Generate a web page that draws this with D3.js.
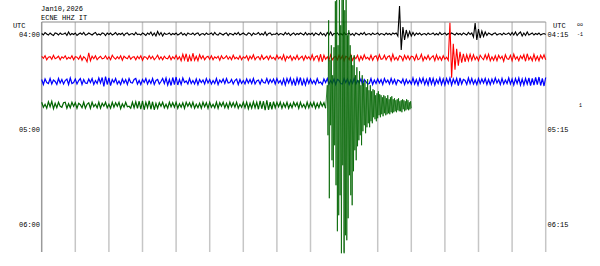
<!DOCTYPE html>
<html>
<head>
<meta charset="utf-8">
<script src="https://cdn.jsdelivr.net/npm/d3@7"></script>
<style>
  html, body { margin: 0; padding: 0; background: #fff; }
  svg { display: block; }
</style>
</head>
<body>
<div id="chart"></div>
<script>
// data ------------------------------------------------------------------------------------------
const dateLabel = 'Jan10,2026';
const stationLabel = 'ECNE HHZ IT';
const leftHours = ['04:00', '05:00', '06:00'];
const rightHours = ['04:15', '05:15', '06:15'];
const hourRows = [0, 4, 8];
const minutesPerRow = 15;
const sampleStep = 0.05;  // minutes between samples (noise)
const quakeStart = 8.5;   // minute where the earthquake starts on the green line
const quakeStep = 0.02;   // minutes between samples (earthquake)
// amplitude of each trace, one value per sample (positive = up)
const blackTrace = [
  0.5,-1,1.5,0,-1,1,-0.5,-1.5,1,0.5,-1,1,-0.5,0,1,-1.5,2,-1,0.5,-0.5,
  1,-1.5,0,1,-0.5,1.5,-1,-0.5,1,0,-1,0.5,1.5,-1,0,-1,1,0.5,-1.5,1,
  -0.5,1,-1,0,1.5,-1,0.5,-0.5,1,-1.5,0.5,1,-1,0,0.5,-1,1.5,-0.5,0,-1,
  1,0,-1.5,1,-0.5,2,-1.5,1,-2,2.5,-1,1.5,-2,1,-0.5,0,1,-1,0.5,-0.5,
  1,-1,0,1.5,-1,0.5,-1.5,1,0,-0.5,1,-1,0.5,1,-1.5,0,0.5,-1,1,-0.5,
  0,1,-1,1.5,-0.5,-1,1,0,-1,0.5,1,-1.5,0.5,0,-1,1,-0.5,1.5,-1,0,
  1,-0.5,-1,1,0.5,-1.5,1,-0.5,0,1.5,-1,0.5,-1,2,-1.5,0.5,1,-1,0,-0.5,
  1,-1,0.5,0,-1,1.5,-0.5,1,-1.5,0,1,-1,0.5,-0.5,1,0,-1,1.5,-1,0.5,
  -0.5,1,-1.5,1,0,-1,1.5,-1,0.5,-2,1.5,-1,2,-1.5,0.5,0,1,-1,0.5,-1,
  1.5,-0.5,0,1,-1,0.5,-1.5,1,0,-1,1,-0.5,1.5,-1,0,0.5,-1,1,-0.5,0,
  1,-1,0.5,0,-1,1,-0.5,0.5,-1,1,0,1,-2,28,-16,7,-6,4,-3,2.5,
  -2,1.5,-1.5,1,-0.5,1,-1,0,0.5,-1,1,-0.5,0,1,-1,0.5,-1,1.5,-0.5,0,
  1,-1,0.5,-0.5,1,0,-1,1,-0.5,0.5,-1,1,0,-1,1.5,-0.5,1,-3,11,-6,
  5,-4,3,-2.5,2,-1.5,1,0,-1,0.5,1,-1,0,0.5,-1,1,-0.5,0,1,-1,
  1.5,-1,2,-1.5,0.5,2,-2,1,-1.5,2,-1,0,1,-1,0.5,-0.5,1,-1,0,0.5,
  -0.5
];
const redTrace = [
  1.5,-0.5,2,-2,0.5,1,-1.5,2.5,-1,0,1.5,-2,1,-0.5,2,-1.5,0.5,-1,2,-2,
  1,0.5,-1.5,2,-2.5,1,-0.5,-4,5,-3,1.5,-1,2,-2,0,1.5,-1,-0.5,2,-1.5,
  1,-2,2.5,0,-1.5,1,-1,2,-2.5,1.5,0,-1,2,-1.5,0.5,1,-2,1.5,-1,2,
  -2.5,1,0.5,-1.5,2,-1,1.5,-2,0,2.5,-1.5,1,-2,1.5,-0.5,-1,2,-2,1,-1,
  2.5,-1.5,1,-3,3.5,-2,4,-4,2,-3.5,4.5,-2.5,1.5,-3,3,-1,2,-2,0.5,1.5,
  -1.5,2,-2,1,-0.5,1.5,-2.5,2,-1,0,2,-1.5,1,-2,2.5,-1,0.5,-1.5,2,-2,
  1,-0.5,2,-2.5,1.5,-1,3,-2,0.5,1,-2,2.5,-1.5,0,1.5,-2,2,-1,0.5,-2,
  2.5,-1,1,-2,3,-3,1.5,-0.5,2,-2.5,1,-1.5,2.5,-2,0,1.5,-2.5,2,-1,1,
  -2,3,-2.5,1,2,-3,3.5,-4,2.5,-1.5,1,-2.5,3,-2,0.5,1.5,-2,2.5,-1.5,2,
  -3,1.5,0.5,-2,3,-2.5,1,-1,2.5,-3,1.5,-2,3,-1,0.5,-2,2.5,-2.5,1,2,
  -2.5,3,-1.5,-1,2.5,-2,1,2,-3,3.5,-2,0.5,-2.5,2,1,-3,2.5,-1.5,2,-2,
  1.5,1,-2.5,3,-2,-1,3.5,-3,1,-1.5,2.5,-2,0.5,2,-3,3,-2,1,-2.5,2,
  -1.5,0.5,-2.5,35,-20,14,-12,9,-8,6,-5,4,-4,3,-3,3.5,-2.5,3,-2,1,
  -3,2.5,0,-2,3,-1.5,3.5,-3,1,-2.5,2,-3,2.5,-1,1.5,-3.5,3,-1,-1.5,2.5,
  -3,3.5,-1.5,1,-3,2,-1,3,-3.5,4,-2,1,-3,3.5,-2.5,1.5,-3,2.5,-1,3,
  -2
];
const blueTrace = [
  2,-3,2.5,-1,-2,3,-2.5,1.5,0,-3,3,-1.5,2,-2.5,1,2.5,-3,3.5,-2,-1,
  2.5,-2.5,1,3,-3,2,-1.5,-2,2.5,-1,3,-3,1,-2,3.5,-1.5,4,-5,5,-3,
  3.5,-4,2,-1,3,-2.5,0.5,-3,2.5,-1.5,2,-3,3,-1,-1.5,2,3,-2.5,1,-3,
  2,-1,3,-2.5,1.5,-2,3,-3,1,2,-2.5,0,3,-2,3.5,-3.5,2,-4,4,-3,
  4.5,-3.5,2,-3,3.5,-1,0.5,-2.5,3,-2,1,-2.5,2.5,-3,2,-1,1.5,-2.5,3,-1.5,
  2,-2.5,1,-2,3,-3,1.5,-1,2.5,-2,3,-1.5,-1,2,-2.5,1,2.5,-3,2,-2,
  1,-2.5,2.5,-1.5,2,-2,3,-2.5,0.5,1.5,-2.5,2,-1,-1.5,3,-2,2,-1,2.5,-2.5,
  3,-1.5,1,-3,2.5,-3.5,3,-1.5,3.5,-3,2,-4,3.5,-2,4,-4,2,-3.5,3,-2,
  2.5,-2,1,-2.5,3,-1.5,-0.5,-3,2.5,-1,3,-2.5,1,-2,2.5,-3,2,1,-2,-2.5,
  3,-1,2.5,-3,1.5,-2,3,-2.5,1,-1.5,2.5,-3,2,0,-2.5,-2,3,-3,1.5,-2,
  2.5,-1.5,2,-3,3,-1,1.5,-2.5,3,-2,2,-3,1.5,0.5,-1.5,2.5,-3,2,-2,1,
  -2.5,3.5,-2.5,2,-3.5,3,-1.5,3.5,-3,2,-3.5,4,-2.5,3,-3.5,2,-2,3.5,-3,2.5,
  -3.5,3,-2,3.5,-3.5,2.5,-2,3,-4,3.5,-2.5,2,1,-3,3.5,-2,3,-2.5,1.5,-3,
  3,-2,2.5,-1.5,3,-3,2,-3,2.5,-2,3.5,-1.5,2,-3,3,-2.5,1.5,-2,3.5,-2.5,
  2.5,-3.5,3,-2,3.5,-3.5,2.5,-3.5,3,-2.5,3.5,-4,3,-3.5,4,-3,4.5,-4,3,-4.5,
  4
];
const greenTrace = [
  3,-2,1,-3,3.5,-1.5,4,-3.5,2,-2.5,3,-1,-2,2.5,3,-3,1.5,-2.5,3,-1,
  2.5,-3,2,0.5,-2.5,3,-3,1,2.5,-3,3,-1.5,1,-2.5,3,-3,2,-1,3,-2.5,
  1,-3,3,-2,2.5,-1,3,-3.5,1.5,-2,3,-1.5,-1,-3,3,-2.5,3.5,-3,4,-4,
  4.5,-4.5,3,-2.5,4.5,-4,3.5,-4.5,2,-3,2.5,-1,3,-2.5,1,-3,3,-1.5,2.5,-2,
  3,-3,1.5,-2,2.5,-3,3,-1,2.5,-2,3,-3,1,-2.5,2,-3,3,-1.5,2.5,-3,
  3,-2,1,-2.5,3,-3,2.5,-1,3,-2.5,2,-3,3,-1.5,2.5,-2,3,-3,1,-2,
  3,-2.5,3,-3.5,2,-3,3.5,-2.5,3,-4,4.5,-3.5,4,-5,5,-4.5,3,-4,3.5,-2.5,
  3,-1.5,3,-3,2,-2,3,-3,1.5,-2.5,3,-1,2.5,-3,3,-2,1,-3,3,-2.5,
  2.5,-1.5,3,-3,2,-2.5,3,-1,2.5,-3
];
const greenQuake = [
  20,-30,85,-93,45,-20,60,-55,30,-62,58,-40,104,-80,115,-126,60,-110,115,-90,
  80,-148,115,-60,110,-148,95,-130,115,-135,70,-113,75,-70,60,-90,50,-100,40,-66,
  50,-45,30,-55,38,-41,25,-35,34,-30,20,-40,30,-26,22,-20,25,-28,18,-22,
  26,-18,15,-22,20,-16,14,-18,16,-12,15,-14,10,-16,12,-13,14,-10,11,-12,
  10,-9,8,-11,10,-8,9,-10,7,-9,10,-8,6,-9,8,-7,9,-8,6,-7,
  7,-6,5,-7,6,-5,7,-6,4,-6,5,-7,6,-4,5,-6,4,-5,6,-4,
  5,-5,3,-4,4,-3
];
// [minute, amplitude] points ------------------------------------------------------------------
const toPoints = (values, start, step) => values.map((v, i) => [start + i * step, v]);
const greenPre = toPoints(greenTrace, 0, sampleStep);
const traces = [
  { points: toPoints(blackTrace, 0, sampleStep), color: '#000000', row: 0, w: 1.1 },
  { points: toPoints(redTrace, 0, sampleStep), color: '#ff0000', row: 1, w: 1.1 },
  { points: toPoints(blueTrace, 0, sampleStep), color: '#0000ff', row: 2, w: 1.2 },
  { points: greenPre, color: '#006400', row: 3, w: 1.2 },
  { points: greenPre.slice(-1).concat(toPoints(greenQuake, quakeStart, quakeStep)),
    color: '#006400', row: 3, w: 0.8 }
];
// SVG領域 ----------------------------------------------------------------------------------------
const width = 600;
const height = 266;
const plot = { left: 41.7, right: 545.7, top: 22, bottom: 252 };
const svg = d3.select('#chart').append('svg')
  .attr('width', width)
  .attr('height', height);
// scales -----------------------------------------------------------------------------------------
const xScale = d3.scaleLinear()
  .domain([0, minutesPerRow])
  .range([plot.left, plot.right]);
const rowScale = d3.scaleLinear()
  .domain([0, 8])
  .range([34, 224]);
const ampScale = d3.scaleLinear()
  .domain([-1, 1])
  .range([1, -1]);
// minute grid ------------------------------------------------------------------------------------
svg.append('g')
  .selectAll('line')
  .data(xScale.ticks(minutesPerRow))
  .enter()
  .append('line')
  .attr('x1', d => xScale(d))
  .attr('x2', d => xScale(d))
  .attr('y1', plot.top)
  .attr('y2', plot.bottom)
  .attr('stroke', (d, i) => i === 0 ? '#9a9a9a' : '#c6c6c6')
  .attr('stroke-width', 1.5);
svg.append('line')
  .attr('x1', plot.left)
  .attr('x2', plot.right)
  .attr('y1', plot.top)
  .attr('y2', plot.top)
  .attr('stroke', '#8a8a8a')
  .attr('stroke-width', 1);
// traces -----------------------------------------------------------------------------------------
const line = d3.line()
  .x(d => xScale(d[0]));
traces.forEach(t => {
  line.y(d => rowScale(t.row) + ampScale(d[1]));
  svg.append('path')
    .datum(t.points)
    .attr('d', line)
    .attr('fill', 'none')
    .attr('stroke', t.color)
    .attr('stroke-width', t.w)
    .attr('stroke-linejoin', 'miter');
});
// texts ------------------------------------------------------------------------------------------
const font = '"Liberation Mono", "DejaVu Sans Mono", monospace';
const label = (x, y, text, anchor, size) => svg.append('text')
  .attr('x', x)
  .attr('y', y)
  .attr('text-anchor', anchor)
  .attr('font-family', font)
  .attr('font-size', size + 'px')
  .attr('fill', '#000')
  .text(text);
label(41, 11, dateLabel, 'start', 7);
label(41, 19.5, stationLabel, 'start', 7);
label(25.5, 28, 'UTC', 'end', 7);
label(553, 28, 'UTC', 'start', 7);
leftHours.forEach((h, i) => label(40, rowScale(hourRows[i]) + 2.5, h, 'end', 7));
rightHours.forEach((h, i) => label(547.5, rowScale(hourRows[i]) + 2.5, h, 'start', 7));
label(577, 26, 'oo', 'start', 5);
label(577, 36, '-1', 'start', 5);
label(579, 107, '1', 'start', 5);
</script>
</body>
</html>
